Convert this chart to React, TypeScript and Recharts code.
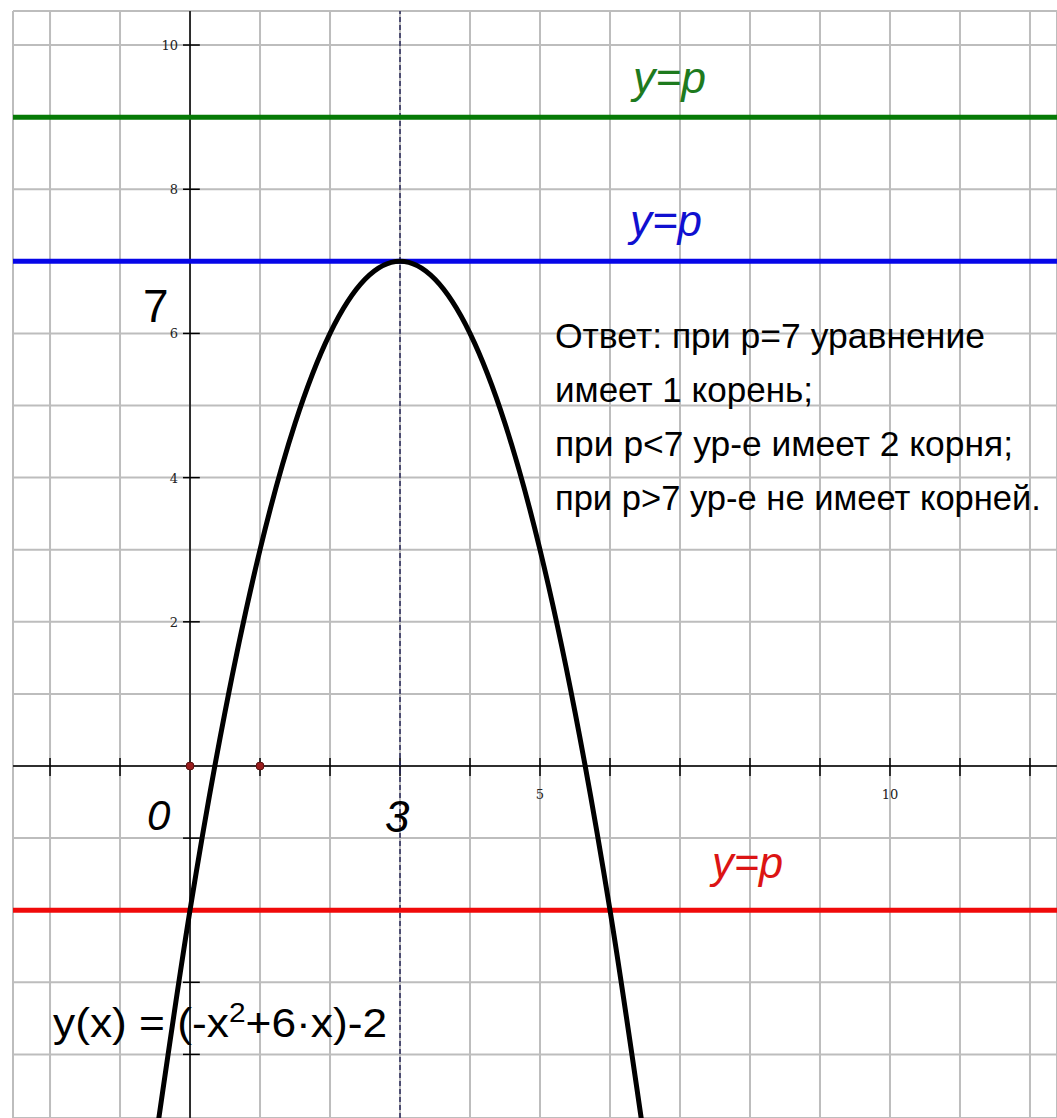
import {
  ComposedChart,
  Line,
  Scatter,
  XAxis,
  YAxis,
  CartesianGrid,
  ReferenceLine,
  ReferenceDot,
} from "recharts";

// grid and axis ticks
const xGrid = [-2, -1, 0, 1, 2, 3, 4, 5, 6, 7, 8, 9, 10, 11, 12];
const yGrid = [-4, -3, -2, -1, 0, 1, 2, 3, 4, 5, 6, 7, 8, 9, 10];
const xTickMarks = [-2, -1, 1, 2, 3, 4, 5, 6, 7, 8, 9, 10, 11, 12];
const yTickMarks = [10, 8, 6, 4, 2, -1, -3, -4];
const xTickLabels = [5, 10];
const yTickLabels = [10, 8, 6, 4, 2];

// y(x) = (-x^2 + 6x) - 2
const curve = [
  { x: -0.5, y: -5.25 },
  { x: 0, y: -2 },
  { x: 0.5, y: 0.75 },
  { x: 1, y: 3 },
  { x: 1.5, y: 4.75 },
  { x: 2, y: 6 },
  { x: 2.5, y: 6.75 },
  { x: 3, y: 7 },
  { x: 3.5, y: 6.75 },
  { x: 4, y: 6 },
  { x: 4.5, y: 4.75 },
  { x: 5, y: 3 },
  { x: 5.5, y: 0.75 },
  { x: 6, y: -2 },
  { x: 6.5, y: -5.25 },
];

const markedPoints = [
  { x: 0, y: 0 },
  { x: 1, y: 0 },
];

const levels = [9, 7, -2];
const levelColors = ["#067a06", "#0606e8", "#f00a0a"];
const levelTextColors = ["#1e7a1e", "#1010d0", "#dc1414"];
const vertexX = 3;

const answerLines = [
  "Ответ: при р=7 уравнение",
  "имеет 1 корень;",
  "при р<7 ур-е имеет 2 корня;",
  "при р>7 ур-е не имеет корней.",
];
const answerWidths = [430, 258, 458, 486];

const X0 = -2.529;
const X1 = 12.386;
const Y0 = -4.882;
const Y1 = 10.472;

const FONT = "'Liberation Sans', Arial, sans-serif";

function at(viewBox: any) {
  return { x: viewBox.x + (viewBox.width || 0) / 2, y: viewBox.y + (viewBox.height || 0) / 2 };
}

function note(key: string, x: number, y: number, draw: (cx: number, cy: number) => any) {
  return (
    <ReferenceDot
      key={key}
      x={x}
      y={y}
      r={0}
      fill="none"
      stroke="none"
      ifOverflow="visible"
      label={{
        content: (p: any) => {
          const c = at(p.viewBox);
          return draw(c.x, c.y);
        },
      }}
    />
  );
}

export default function App() {
  return (
    <div style={{ position: "absolute", left: 0, top: 0, background: "#fff" }}>
      <ComposedChart
        width={1057}
        height={1118}
        data={curve}
        margin={{ top: 11, left: 13, right: 0, bottom: 0 }}
      >
        <XAxis type="number" dataKey="x" domain={[X0, X1]} ticks={xGrid} hide allowDataOverflow />
        <YAxis type="number" dataKey="y" domain={[Y0, Y1]} ticks={yGrid} hide allowDataOverflow />
        <CartesianGrid stroke="#bdbdbd" strokeWidth={2} />

        <ReferenceLine y={0} stroke="#000" strokeWidth={1.5} />
        <ReferenceLine x={0} stroke="#000" strokeWidth={1.5} />
        {xTickMarks.map((t) => (
          <ReferenceLine
            key={"xt" + t}
            segment={[{ x: t, y: -0.14 }, { x: t, y: 0.11 }]}
            stroke="#000"
            strokeWidth={1.5}
          />
        ))}
        {yTickMarks.map((t) => (
          <ReferenceLine
            key={"yt" + t}
            segment={[{ x: -0.1, y: t }, { x: 0.14, y: t }]}
            stroke="#000"
            strokeWidth={1.5}
          />
        ))}
        {xTickLabels.map((t) =>
          note("xl" + t, t, 0, (cx, cy) => (
            <text x={cx} y={cy + 33} textAnchor="middle" fontFamily="'DejaVu Serif', serif" fontSize={13} fill="#222">
              {t}
            </text>
          ))
        )}
        {yTickLabels.map((t) =>
          note("yl" + t, 0, t, (cx, cy) => (
            <text x={cx - 12} y={cy + 5} textAnchor="end" fontFamily="'DejaVu Serif', serif" fontSize={13} fill="#222">
              {t}
            </text>
          ))
        )}

        <ReferenceLine x={vertexX} stroke="#2a2a5a" strokeWidth={1.5} strokeDasharray="5 3" />
        {levels.map((p, i) => (
          <ReferenceLine key={"lv" + p} y={p} stroke={levelColors[i]} strokeWidth={5} />
        ))}

        <Line
          type="monotone"
          dataKey="y"
          stroke="#000"
          strokeWidth={5}
          dot={false}
          isAnimationActive={false}
        />
        <Scatter
          data={markedPoints}
          fill="#9a1c1c"
          stroke="#5a1010"
          strokeWidth={1}
          isAnimationActive={false}
          shape={(p: any) => <circle cx={p.cx} cy={p.cy} r={4} fill="#9a1c1c" stroke="#5a1010" />}
        />

        {/* level labels */}
        {note("g", 6.329, 9.334, (cx, cy) => (
          <text x={cx} y={cy} fontFamily={FONT} fontStyle="italic" fontSize={44} fill={levelTextColors[0]} textLength={73} lengthAdjust="spacingAndGlyphs">
            y=p
          </text>
        ))}
        {note("b", 6.286, 7.351, (cx, cy) => (
          <text x={cx} y={cy} fontFamily={FONT} fontStyle="italic" fontSize={44} fill={levelTextColors[1]} textLength={72} lengthAdjust="spacingAndGlyphs">
            y=p
          </text>
        ))}
        {note("r", 7.457, -1.553, (cx, cy) => (
          <text x={cx} y={cy} fontFamily={FONT} fontStyle="italic" fontSize={44} fill={levelTextColors[2]} textLength={71} lengthAdjust="spacingAndGlyphs">
            y=p
          </text>
        ))}

        {note("seven", -0.671, 6.158, (cx, cy) => (
          <text x={cx} y={cy} fontFamily={FONT} fontSize={46} fill="#000">
            7
          </text>
        ))}
        {note("zero", -0.614, -0.888, (cx, cy) => (
          <text x={cx} y={cy} fontFamily={FONT} fontStyle="italic" fontSize={42} fill="#000">
            0
          </text>
        ))}
        {note("three", 2.786, -0.915, (cx, cy) => (
          <text x={cx} y={cy} fontFamily={FONT} fontStyle="italic" fontSize={44} fill="#000">
            3
          </text>
        ))}

        {note("answer", 5.214, 5.797, (cx, cy) => (
          <g>
            {answerLines.map((s, i) => (
              <text
                key={i}
                x={cx}
                y={cy + i * 54}
                fontFamily={FONT}
                fontSize={35}
                fill="#000"
                textLength={answerWidths[i]}
                lengthAdjust="spacingAndGlyphs"
              >
                {s}
              </text>
            ))}
          </g>
        ))}

        {note("formula", -1.957, -3.759, (cx, cy) => (
          <text x={cx} y={cy} fontFamily={FONT} fontSize={40} fill="#000" textLength={334} lengthAdjust="spacingAndGlyphs">
            y(x) = (-x
            <tspan fontSize={27} dy={-15}>2</tspan>
            <tspan dy={15}>+6·x)-2</tspan>
          </text>
        ))}
      </ComposedChart>
    </div>
  );
}
